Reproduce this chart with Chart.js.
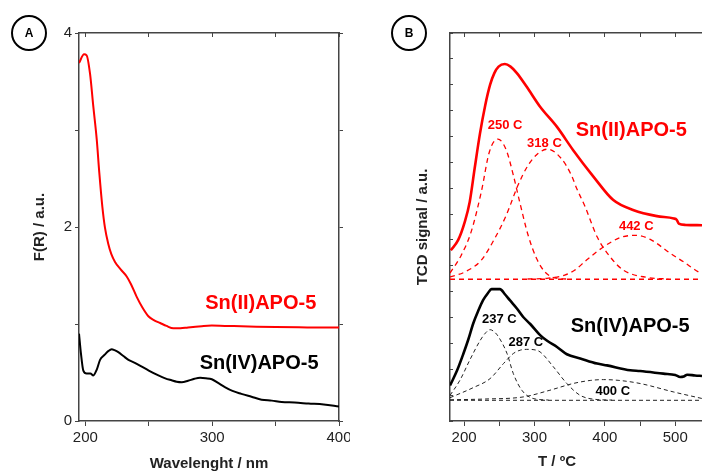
<!DOCTYPE html>
<html>
<head>
<meta charset="utf-8">
<script src="https://cdn.jsdelivr.net/npm/chart.js@4.4.1/dist/chart.umd.min.js"></script>
<style>
  body { margin: 0; background: #fff; }
  #wrap { position: relative; width: 702px; height: 473px; overflow: hidden; }
  canvas { position: absolute; top: 0; }
  .tag {
    position: absolute; width: 36px; height: 36px; box-sizing: border-box;
    border: 2.5px solid #000; border-radius: 50%;
    font: bold 12px "Liberation Sans", Arial, sans-serif;
    display: flex; align-items: center; justify-content: center;
  }
</style>
</head>
<body>
<div id="wrap">
  <canvas id="chartA" width="350" height="473" style="left:0"></canvas>
  <canvas id="chartB" width="352" height="473" style="left:350px"></canvas>
  <div class="tag" style="left:11px;top:15px">A</div>
  <div class="tag" style="left:391px;top:15px">B</div>
</div>
<script>
// panel A : DRS, F(R) vs wavelength (nm)
var snIIAbs = [[195,3.69],[199,3.78],[201,3.77],[203.7,3.58],[206.3,3.24],[209,2.90],[211,2.56],[213.4,2.21],
  [215.5,1.99],[218,1.83],[220.5,1.72],[223.4,1.64],[228,1.56],[232.6,1.49],[236,1.41],[240.5,1.28],[245,1.17],
  [249.7,1.08],[254,1.04],[259,1.01],[264,0.98],[269.4,0.955],[275,0.956],[281,0.965],[291.8,0.978],[299.7,0.984],
  [310,0.98],[323,0.977],[350,0.968],[375,0.965],[400,0.963]];
var snIVAbs = [[195,0.90],[196.5,0.70],[198.4,0.52],[201,0.49],[204,0.49],[206.3,0.47],[209,0.53],[211.6,0.63],
  [215,0.68],[218,0.72],[220.8,0.74],[223,0.73],[226,0.71],[230,0.67],[234,0.63],[239,0.60],[244.5,0.56],[250,0.52],
  [257.6,0.47],[263,0.44],[268,0.42],[272,0.405],[276,0.40],[281,0.415],[286,0.435],[290.5,0.445],[295,0.44],
  [299.7,0.43],[305,0.39],[310,0.35],[316,0.31],[323,0.28],[331,0.25],[339,0.22],[347,0.21],[354.8,0.196],
  [365,0.19],[376,0.18],[388,0.17],[400,0.15]];

// panel B : TPD, TCD signal vs T (ºC)
var snIITpd = [[181,6.60],[191.5,6.99],[201,7.70],[208,8.47],[215,9.76],[222.5,11.1],[230,12.2],[237,13.0],[243,13.45],
  [249,13.7],[258,13.8],[266,13.7],[275,13.45],[289,12.92],[308,12.15],[332,11.37],[355,10.47],[384,9.44],[412,8.54],
  [441,8.15],[474,7.92],[498,7.83],[502,7.78],[505,7.63],[515,7.58],[538,7.57]];
var snIIPeak250 = [[180,5.72],[196,6.41],[210,7.31],[224.5,8.86],[236,10.41],[248,10.90],[260,10.47],[270,9.50],
  [279,8.47],[291,7.18],[303,6.28],[315,5.76],[329,5.53],[345,5.49]];
var snIIPeak318 = [[180,5.57],[201,5.76],[224.5,6.22],[243.6,7.06],[260,7.96],[276.7,9.12],[291,9.89],[305,10.34],
  [319,10.51],[338,10.15],[352.5,9.50],[360,8.99],[372,8.28],[389,7.12],[407.6,6.34],[426.5,5.83],[460,5.55],[490,5.49]];
var snIIPeak442 = [[290,5.49],[320,5.52],[343,5.64],[357,5.83],[374,6.22],[398,6.73],[422,7.09],[443,7.18],
  [464.5,7.02],[493,6.48],[512,6.15],[533,5.76],[538,5.70]];
var snIIBase = [[180,5.48],[538,5.48]];

var snIVTpd = [[180,1.37],[190,1.95],[199,2.6],[206,3.15],[213,3.77],[220,4.25],[227,4.67],[234,4.95],[239,5.1],
  [251,5.1],[258,4.9],[265,4.67],[275,4.35],[284,4.02],[294,3.75],[308,3.32],[318,3.1],[332,2.86],[346,2.58],
  [365,2.42],[389,2.22],[403,2.15],[436,1.96],[450,1.93],[483,1.83],[500,1.78],[507,1.70],[512,1.72],[517,1.79],
  [528,1.76],[538,1.74]];
var snIVPeak237 = [[180,0.99],[194,1.57],[208,2.35],[223,3.12],[231,3.42],[237,3.53],[244,3.42],[249,3.25],
  [261,2.61],[270,1.83],[282,1.19],[298,0.87],[320,0.81]];
var snIVPeak287 = [[180,0.90],[213,1.29],[237,1.64],[256,2.22],[270,2.61],[280,2.74],[289,2.77],[298,2.76],
  [308,2.67],[327,2.09],[346,1.45],[365,0.99],[389,0.83],[410,0.81]];
var snIVPeak400 = [[180,0.82],[230,0.85],[284,0.93],[322,1.19],[355,1.45],[380,1.57],[398,1.60],[420,1.57],
  [450,1.45],[498,1.12],[538,0.87]];
var snIVBase = [[180,0.80],[538,0.80]];

// ticks
var waveTicks = [200, 250, 300, 350, 400];
var waveLabels = [200, 300, 400];
var tempTicks = [200, 250, 300, 350, 400, 450, 500];
var tempLabels = [200, 300, 400, 500];

var FONT = '"Liberation Sans", Arial, sans-serif';
var AXIS = '#444';
var RED = '#ff0000';
Chart.defaults.font.family = FONT;
Chart.defaults.color = '#222';

function pts(arr) {
  return arr.map(function(p) { return {x: p[0], y: p[1]}; });
}
function fixW(w) {
  return function(s) { s.width = w; s.paddingTop = 0; s.paddingBottom = 0; };
}
function fixH(h) {
  return function(s) { s.height = h; s.paddingLeft = 0; s.paddingRight = 0; };
}
function setTicks(list) {
  return function(s) { s.ticks = list.map(function(v) { return {value: v}; }); };
}

// text inside the plot, placed in data units
var textPlugin = {
  id: 'texts',
  afterDatasetsDraw: function(chart, args, opts) {
    var ctx = chart.ctx;
    var xs = chart.scales.x, ys = chart.scales.y;
    ctx.save();
    ctx.textAlign = 'center';
    ctx.textBaseline = 'middle';
    (opts.items || []).forEach(function(t) {
      ctx.font = 'bold ' + t.size + 'px ' + FONT;
      ctx.fillStyle = t.color;
      ctx.fillText(t.text, xs.getPixelForValue(t.x), ys.getPixelForValue(t.y));
    });
    (opts.free || []).forEach(function(t) {
      ctx.font = 'bold ' + t.size + 'px ' + FONT;
      ctx.fillStyle = t.color;
      ctx.fillText(t.text, t.px, t.py);
    });
    ctx.restore();
  }
};

function line(data, color, width, dash) {
  return {
    data: pts(data),
    borderColor: color,
    borderWidth: width,
    borderDash: dash || [],
    pointRadius: 0,
    fill: false,
    cubicInterpolationMode: 'monotone'
  };
}

function edgeAxis(pos, min, max, tl, fit, extra) {
  var a = {
    type: 'linear', position: pos, min: min, max: max,
    ticks: {display: false},
    grid: {drawOnChartArea: false, tickLength: tl, color: AXIS, lineWidth: 1},
    border: {color: AXIS, width: 1.5},
    afterFit: fit
  };
  for (var k in extra) a[k] = extra[k];
  return a;
}

new Chart(document.getElementById('chartA'), {
  type: 'line',
  data: {
    datasets: [
      line(snIIAbs, RED, 2),
      line(snIVAbs, '#000', 2)
    ]
  },
  plugins: [textPlugin],
  options: {
    responsive: false,
    animation: false,
    devicePixelRatio: 1,
    layout: {padding: {left: 0, right: 7, top: 33, bottom: 0}},
    plugins: {
      legend: {display: false},
      tooltip: {enabled: false},
      texts: {
        items: [
          {text: 'Sn(II)APO-5', x: 338.3, y: 1.215, size: 20, color: RED},
          {text: 'Sn(IV)APO-5', x: 337, y: 0.595, size: 20, color: '#000'}
        ]
      }
    },
    scales: {
      x: {
        type: 'linear', position: 'bottom', min: 195, max: 400,
        afterBuildTicks: setTicks(waveTicks),
        ticks: {
          autoSkip: false, maxRotation: 0, padding: 3, font: {size: 15},
          callback: function(v) { return waveLabels.indexOf(v) >= 0 ? v : ''; }
        },
        grid: {drawOnChartArea: false, tickLength: 5, color: AXIS},
        border: {color: AXIS, width: 1.5},
        title: {display: true, text: 'Wavelenght / nm', font: {size: 15, weight: 'bold'}, color: '#222', padding: {top: 0, bottom: 0}},
        afterFit: fixH(52)
      },
      x2: edgeAxis('top', 195, 400, -4, fixH(0), {afterBuildTicks: setTicks(waveTicks)}),
      y: {
        type: 'linear', position: 'left', min: 0, max: 4,
        ticks: {
          stepSize: 1, padding: 3, font: {size: 15},
          callback: function(v) { return v % 2 === 0 ? v : ''; }
        },
        grid: {drawOnChartArea: false, tickLength: 4, color: AXIS},
        border: {color: AXIS, width: 1.5},
        title: {display: true, text: 'F(R) / a.u.', font: {size: 15, weight: 'bold'}, color: '#222', padding: {top: 31, bottom: 0}},
        afterFit: fixW(79)
      },
      y2: edgeAxis('right', 0, 4, 4, fixW(4), {ticks: {display: false, stepSize: 1}})
    }
  }
});

new Chart(document.getElementById('chartB'), {
  type: 'line',
  data: {
    datasets: [
      line(snIIBase, RED, 1.3, [5, 4]),
      line(snIIPeak250, RED, 1.3, [5, 4]),
      line(snIIPeak318, RED, 1.3, [5, 4]),
      line(snIIPeak442, RED, 1.3, [5, 4]),
      line(snIITpd, RED, 2.6),
      line(snIVBase, '#222', 1, [4, 3]),
      line(snIVPeak237, '#222', 1, [4, 3]),
      line(snIVPeak287, '#222', 1, [4, 3]),
      line(snIVPeak400, '#222', 1, [4, 3]),
      line(snIVTpd, '#000', 2.6)
    ]
  },
  plugins: [textPlugin],
  options: {
    responsive: false,
    animation: false,
    devicePixelRatio: 1,
    layout: {padding: {left: 0, right: 0, top: 33, bottom: 0}},
    plugins: {
      legend: {display: false},
      tooltip: {enabled: false},
      texts: {
        items: [
          {text: 'Sn(II)APO-5', x: 437.5, y: 11.25, size: 20, color: RED},
          {text: 'Sn(IV)APO-5', x: 436, y: 3.64, size: 20, color: '#000'},
          {text: '250 C', x: 258.2, y: 11.44, size: 13, color: RED},
          {text: '318 C', x: 314.2, y: 10.75, size: 13, color: RED},
          {text: '442 C', x: 444.6, y: 7.53, size: 13, color: RED},
          {text: '237 C', x: 250, y: 3.92, size: 13, color: '#000'},
          {text: '287 C', x: 287.7, y: 3.02, size: 13, color: '#000'},
          {text: '400 C', x: 411.2, y: 1.16, size: 13, color: '#000'}
        ],
        free: [
          {text: 'T / ºC', px: 207, py: 462, size: 15, color: '#222'}
        ]
      }
    },
    scales: {
      x: {
        type: 'linear', position: 'bottom', min: 180, max: 538,
        afterBuildTicks: setTicks(tempTicks),
        ticks: {
          autoSkip: false, maxRotation: 0, padding: 3, font: {size: 15},
          callback: function(v) { return tempLabels.indexOf(v) >= 0 ? v : ''; }
        },
        grid: {drawOnChartArea: false, tickLength: 5, color: AXIS},
        border: {color: AXIS, width: 1.5},
        afterFit: fixH(52)
      },
      x2: edgeAxis('top', 180, 538, -4, fixH(0), {afterBuildTicks: setTicks(tempTicks)}),
      y: {
        type: 'linear', position: 'left', min: 0, max: 15,
        ticks: {display: false, stepSize: 1},
        grid: {drawOnChartArea: false, tickLength: -3, color: AXIS},
        border: {color: AXIS, width: 1.5},
        title: {display: true, text: 'TCD signal / a.u.', font: {size: 15, weight: 'bold'}, color: '#222', padding: {top: 64, bottom: 0}},
        afterFit: fixW(100)
      }
    }
  }
});
</script>
</body>
</html>
